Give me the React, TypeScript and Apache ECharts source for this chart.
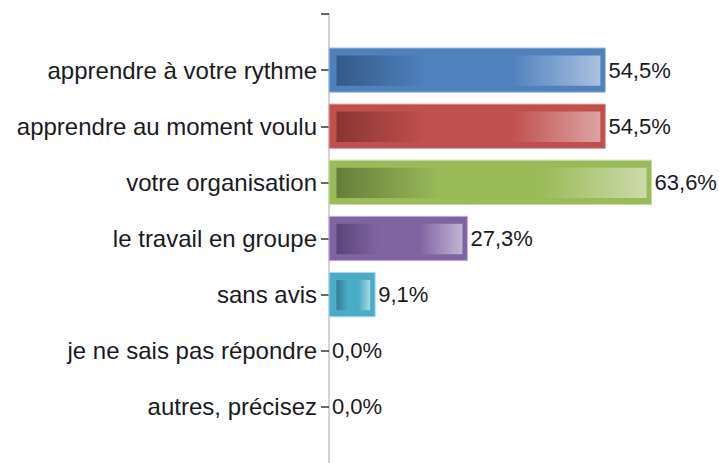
import React, { useEffect, useRef } from "react";
import * as echarts from "echarts";

const categories = [
  "apprendre à votre rythme",
  "apprendre au moment voulu",
  "votre organisation",
  "le travail en groupe",
  "sans avis",
  "je ne sais pas répondre",
  "autres, précisez",
];
const values = [54.5, 54.5, 63.6, 27.3, 9.1, 0, 0];

const mainColors = ["#4f81bd", "#c0504d", "#9bbb59", "#8064a2", "#4bacc6", "#4f81bd", "#c0504d"];
const darkColors = ["#345a88", "#8a3533", "#667d3a", "#5a4577", "#337e93", "#345a88", "#8a3533"];
const lightColors = ["#abc1df", "#dca4a3", "#cbdaa9", "#c2b4d5", "#a9d8e5", "#abc1df", "#dca4a3"];

const axisCategories = ["", ...categories, ""];

export default function App() {
  const ref = useRef<HTMLDivElement>(null);
  useEffect(() => {
    if (!ref.current) return;
    const chart = echarts.init(ref.current, undefined, { renderer: "svg" });
    const fmt = (v: number) => v.toFixed(1).replace(".", ",") + "%";
    chart.setOption({
      animation: false,
      backgroundColor: "#ffffff",
      grid: { left: 329, right: 35, top: 14, bottom: -3, containLabel: false },
      xAxis: {
        type: "value",
        min: 0,
        max: 70,
        show: false,
      },
      yAxis: {
        type: "category",
        data: axisCategories,
        inverse: true,
        boundaryGap: false,
        axisLine: { show: true, lineStyle: { color: "#c4c4c4", width: 1.5 } },
        axisTick: {
          show: true,
          length: 8,
          interval: (index: number) => index < axisCategories.length - 1,
          lineStyle: { color: "#333333", width: 1.5 },
        },
        axisLabel: {
          margin: 12,
          fontFamily: "Liberation Sans",
          fontSize: 24,
          color: "#1a1a22",
        },
        splitLine: { show: false },
      },
      series: [
        {
          type: "custom",
          data: values.map((v, i) => [v, i + 1, i]),
          encode: { x: 0, y: 1 },
          renderItem: (params: any, api: any) => {
            const v = api.value(0);
            const idx = api.value(2);
            const start = api.coord([0, api.value(1)]);
            const end = api.coord([v, api.value(1)]);
            const band = api.size([0, 1])[1];
            const h = band * 0.79;
            const y0 = start[1] - h / 2;
            const children: any[] = [];
            const w = end[0] - start[0];
            if (w > 0) {
              children.push({
                type: "rect",
                shape: { x: start[0], y: y0, width: w, height: h },
                style: { fill: mainColors[idx], stroke: lightColors[idx], lineWidth: 1 },
              });
              const inL = 7.5, inR = 5, inV = 7.5;
              children.push({
                type: "rect",
                shape: {
                  x: start[0] + inL,
                  y: y0 + inV,
                  width: Math.max(0, w - inL - inR),
                  height: h - 2 * inV + 1,
                },
                style: {
                  fill: new echarts.graphic.LinearGradient(0, 0, 1, 0, [
                    { offset: 0, color: darkColors[idx] },
                    { offset: 0.34, color: mainColors[idx] },
                    { offset: 0.66, color: mainColors[idx] },
                    { offset: 1, color: lightColors[idx] },
                  ]),
                },
              });
            }
            children.push({
              type: "text",
              x: end[0] + 3,
              y: start[1],
              style: {
                text: fmt(v),
                fontFamily: "Liberation Sans",
                fontSize: 22,
                fill: "#1a1a22",
                verticalAlign: "middle",
                align: "left",
              },
            });
            return { type: "group", children };
          },
        },
      ],
    });
    return () => chart.dispose();
  }, []);
  return (
    <div
      ref={ref}
      style={{ position: "fixed", left: 0, top: 0, width: 719, height: 463 }}
    />
  );
}
